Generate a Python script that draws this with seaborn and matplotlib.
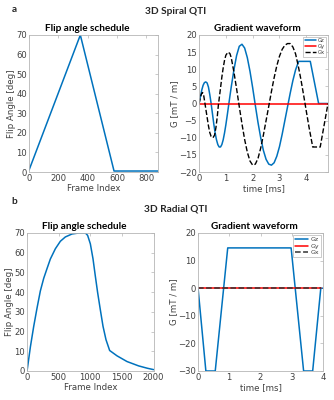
import matplotlib
matplotlib.use("Agg")
import matplotlib.pyplot as plt
import seaborn as sns

# flip angle schedules
spiral_frame = [0, 350, 580, 880]
spiral_fa = [1.0, 70.0, 0.5, 0.5]

radial_frame = [0, 53, 105, 158, 210, 263, 316, 368, 447, 526, 605, 710, 815,
                922, 957, 1000, 1042, 1078, 1115, 1157, 1200, 1247, 1305, 1421,
                1579, 1762, 1900, 2000]
radial_fa = [0.0, 12.3, 22.6, 32.0, 40.6, 47.0, 52.0, 56.8, 62.0, 65.8, 68.0,
             69.5, 70.0, 70.0, 68.8, 64.5, 56.9, 48.3, 39.8, 31.2, 22.7, 15.9,
             10.4, 7.7, 4.8, 2.6, 1.4, 0.7]

# spiral gradient waveform
gz_t = [0.00, 0.05, 0.10, 0.15, 0.20, 0.25, 0.30, 0.35, 0.40, 0.45, 0.50, 0.55,
        0.60, 0.65, 0.70, 0.75, 0.80, 0.85, 0.90, 0.95, 1.00, 1.05, 1.10, 1.15,
        1.20, 1.30, 1.40, 1.50, 1.60, 1.70, 1.80, 1.90, 2.00, 2.10, 2.20, 2.30,
        2.40, 2.50, 2.60, 2.70, 2.80, 2.90, 3.00, 3.10, 3.20, 3.30, 3.40, 3.50,
        3.60, 3.70, 3.72, 4.15, 4.46, 4.80]
gz_spiral = [0.0, 2.0, 3.9, 5.3, 6.1, 6.3, 6.0, 4.8, 2.6, 0.0, -3.0, -6.0,
             -8.6, -10.6, -12.0, -12.7, -12.7, -12.0, -10.6, -8.6, -6.2, -3.5,
             -0.7, 2.1, 4.8, 9.8, 14.0, 16.7, 17.3, 16.2, 13.4, 9.4, 4.6, -0.6,
             -5.6, -10.0, -13.7, -16.3, -17.7, -18.0, -17.3, -15.4, -12.6, -9.0,
             -5.0, -1.0, 3.0, 6.7, 9.8, 12.0, 12.3, 12.3, 0.0, 0.0]

gx_t = [0.00, 0.05, 0.10, 0.13, 0.17, 0.22, 0.30, 0.35, 0.40, 0.45, 0.52, 0.58,
        0.63, 0.68, 0.72, 0.80, 0.85, 0.90, 0.95, 1.00, 1.08, 1.15, 1.20, 1.30,
        1.40, 1.50, 1.60, 1.70, 1.80, 1.90, 2.00, 2.10, 2.20, 2.30, 2.40, 2.50,
        2.60, 2.70, 2.80, 2.90, 3.00, 3.10, 3.20, 3.30, 3.40, 3.50, 3.60, 3.70,
        3.80, 3.90, 4.00, 4.10, 4.20, 4.24, 4.52, 4.81]
gx_spiral = [0.0, 1.8, 3.0, 3.2, 2.5, 0.0, -4.0, -6.5, -8.5, -9.6, -10.0, -9.2,
             -7.0, -3.8, -0.5, 4.5, 7.7, 10.4, 12.6, 14.1, 15.0, 14.6, 13.4, 9.2,
             4.3, -0.9, -5.9, -10.5, -14.2, -16.8, -18.0, -17.7, -16.0, -13.0,
             -9.2, -5.0, -0.8, 3.5, 7.5, 11.0, 13.8, 15.8, 17.0, 17.5, 17.5, 16.5,
             14.5, 11.0, 7.0, 2.5, -2.2, -6.8, -11.0, -12.7, -12.7, 0.0]

gy_t = [0.0, 4.8]
gy_spiral = [0.0, 0.0]

# radial gradient waveform
radial_t = [0.0, 0.25, 0.55, 0.95, 2.98, 3.38, 3.67, 3.93, 4.0]
gz_radial = [0.0, -30.0, -30.0, 14.6, 14.6, -30.0, -30.0, 0.0, 0.0]
gxy_t = [0.0, 3.93]
gy_radial = [0.0, 0.0]
gx_radial = [0.0, 0.0]

BLUE = "#0072BD"
RED = "#FF0000"

sns.set_theme(style="white")
plt.rcParams["font.family"] = ["DejaVu Sans"]
plt.rcParams["axes.edgecolor"] = "#b5b5b5"
plt.rcParams["axes.linewidth"] = 0.6

fig = plt.figure(figsize=(3.34, 4.0), dpi=100)

ax1 = fig.add_axes([0.087, 0.570, 0.386, 0.3425])
ax2 = fig.add_axes([0.596, 0.570, 0.386, 0.3425])
ax3 = fig.add_axes([0.081, 0.0725, 0.379, 0.345])
ax4 = fig.add_axes([0.593, 0.0725, 0.374, 0.345])

title_font = dict(family="Lato", weight="bold", size=7.2, color="black")


def style(ax, title, xlabel, ylabel):
    ax.tick_params(direction="in", top=True, right=True, length=2,
                   width=0.5, color="#b5b5b5", labelsize=6.1,
                   labelcolor="#404040", pad=1.5)
    ax.set_title(title, fontdict=title_font, x=0.45, pad=3)
    ax.set_xlabel(xlabel, fontsize=6.2, color="#404040", labelpad=0.5)
    ax.set_ylabel(ylabel, fontsize=6.2, color="#404040", labelpad=0)


# a: spiral
sns.lineplot(x=spiral_frame, y=spiral_fa, ax=ax1, color=BLUE, linewidth=1.1)
ax1.set_xlim(0, 880)
ax1.set_ylim(0, 70)
ax1.set_xticks([0, 200, 400, 600, 800])
ax1.set_yticks(range(0, 71, 10))
style(ax1, "Flip angle schedule", "Frame Index", "Flip Angle [deg]")

sns.lineplot(x=gz_t, y=gz_spiral, ax=ax2, color=BLUE, linewidth=1.1,
             label="Gz", sort=False)
sns.lineplot(x=gy_t, y=gy_spiral, ax=ax2, color=RED, linewidth=1.1,
             label="Gy", sort=False)
sns.lineplot(x=gx_t, y=gx_spiral, ax=ax2, color="black", linewidth=1.0,
             linestyle="--", dashes=(3, 2), label="Gx", sort=False)
ax2.set_xlim(0, 4.81)
ax2.set_ylim(-20, 20)
ax2.set_xticks([0, 1, 2, 3, 4])
ax2.set_yticks(range(-20, 21, 5))
style(ax2, "Gradient waveform", "time [ms]", "G [mT / m]")

# b: radial
sns.lineplot(x=radial_frame, y=radial_fa, ax=ax3, color=BLUE, linewidth=1.1)
ax3.set_xlim(0, 2000)
ax3.set_ylim(0, 70)
ax3.set_xticks([0, 500, 1000, 1500, 2000])
ax3.set_yticks(range(0, 71, 10))
style(ax3, "Flip angle schedule", "Frame Index", "Flip Angle [deg]")

sns.lineplot(x=radial_t, y=gz_radial, ax=ax4, color=BLUE, linewidth=1.1,
             label="Gz", sort=False)
sns.lineplot(x=gxy_t, y=gy_radial, ax=ax4, color=RED, linewidth=1.1,
             label="Gy", sort=False)
sns.lineplot(x=gxy_t, y=gx_radial, ax=ax4, color="#333333", linewidth=1.1,
             linestyle="--", dashes=(3, 2), label="Gx", sort=False)
ax4.set_xlim(0, 4)
ax4.set_ylim(-30, 20)
ax4.set_xticks([0, 1, 2, 3, 4])
ax4.set_yticks(range(-30, 21, 10))
style(ax4, "Gradient waveform", "time [ms]", "G [mT / m]")

for ax, fs in ((ax2, 3.8), (ax4, 4.5)):
    leg = ax.legend(loc="upper right", fontsize=fs, frameon=True,
                    handlelength=2.1, handletextpad=0.4, borderpad=0.3,
                    labelspacing=0.2, borderaxespad=0.3, fancybox=False,
                    framealpha=1)
    leg.get_frame().set_edgecolor("#b5b5b5")
    leg.get_frame().set_linewidth(0.5)
    for txt in leg.get_texts():
        txt.set_color("#404040")

fig.text(0.035, 0.975, "a", fontsize=7.2, fontweight="bold", family="Lato",
         va="center")
fig.text(0.525, 0.972, "3D Spiral QTI", fontsize=7.3, fontweight="bold",
         family="Lato", ha="center", va="center")
fig.text(0.035, 0.495, "b", fontsize=7.2, fontweight="bold", family="Lato",
         va="center")
fig.text(0.527, 0.477, "3D Radial QTI", fontsize=7.3, fontweight="bold",
         family="Lato", ha="center", va="center")

fig.savefig("out.png", dpi=100)
